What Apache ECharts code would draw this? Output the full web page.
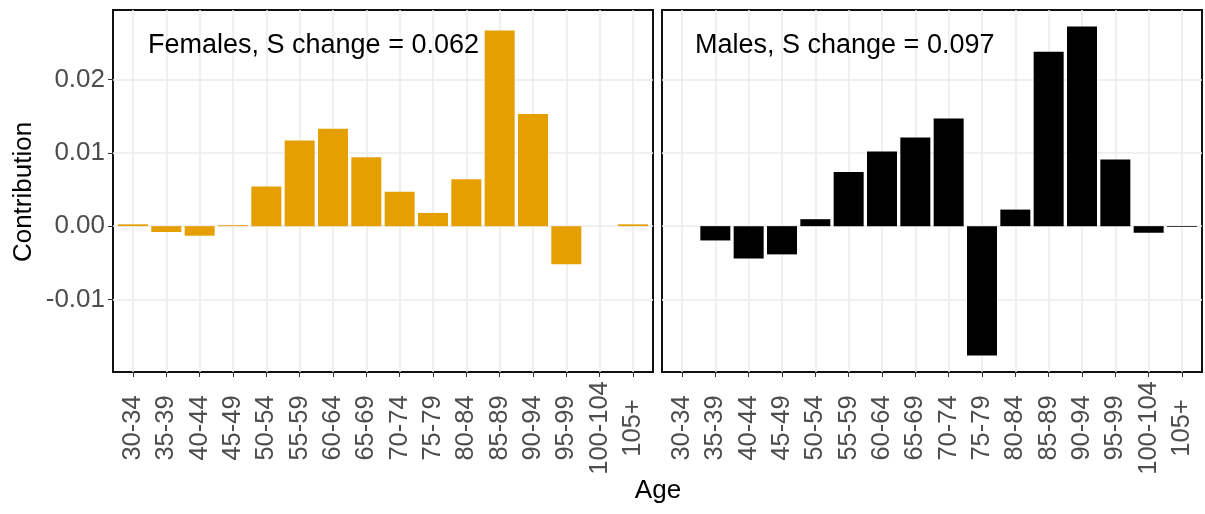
<!DOCTYPE html>
<html>
<head>
<meta charset="utf-8">
<script src="https://cdn.jsdelivr.net/npm/echarts@6/dist/echarts.min.js"></script>
<style>
  html, body { margin: 0; padding: 0; background: #ffffff; }
  #chart { width: 1205px; height: 514px; }
</style>
</head>
<body>
<div id="chart"></div>
<script>
// Age groups on the x axis
const ages = ['30-34', '35-39', '40-44', '45-49', '50-54', '55-59', '60-64', '65-69',
              '70-74', '75-79', '80-84', '85-89', '90-94', '95-99', '100-104', '105+'];

// Contribution of each age group to the change in S
const femaleContrib = [0.00025, -0.0008, -0.0013, 0.00012, 0.0054, 0.0117, 0.0133, 0.0094,
                       0.0047, 0.0018, 0.0064, 0.0267, 0.0153, -0.0052, 0, 0.00025];
const maleContrib = [0, -0.00195, -0.0044, -0.00385, 0.00095, 0.0074, 0.0102, 0.0121,
                     0.0147, -0.01765, 0.00226, 0.0238, 0.02724, 0.0091, -0.0009, -0.0001];

// Panel headings
const panelTitles = ['Females, S change = 0.062', 'Males, S change = 0.097'];

// Y axis tick values and the minor grid lines between them
const yTicks = [-0.01, 0, 0.01, 0.02];
const yMinor = [-0.015, -0.005, 0.005, 0.015, 0.025];

// Shared y range with 5% padding on each side
const allVals = femaleContrib.concat(maleContrib);
const dMin = Math.min(...allVals), dMax = Math.max(...allVals);
const pad = (dMax - dMin) * 0.05;
const yMin = dMin - pad, yMax = dMax + pad;

// Category positions 1..n, with 0.6 of a band of padding on each side
const xPos = ages.map((_, i) => i + 1);
const xMin = 0.4, xMax = ages.length + 0.6;

const FONT = "'Liberation Sans', Arial, sans-serif";
const GRID_MAJOR = '#EBEBEB';
const GRID_MINOR = '#F1F1F1';

const panels = [
  { left: 113, width: 540, color: '#E69F00', values: femaleContrib, showY: true },
  { left: 662, width: 540, color: '#000000', values: maleContrib, showY: false }
];

const grids = [], xAxes = [], yAxes = [], series = [];

panels.forEach((p, k) => {
  grids.push({
    left: p.left, top: 10, width: p.width, height: 362,
    show: true, borderColor: '#111111', borderWidth: 2, backgroundColor: '#ffffff'
  });
  xAxes.push({
    type: 'value', gridIndex: k, min: xMin, max: xMax, position: 'bottom',
    axisLine: { show: false, onZero: false },
    axisTick: { show: true, customValues: xPos, length: 5, lineStyle: { color: '#333333', width: 1 } },
    axisLabel: {
      show: true, customValues: xPos, rotate: 90, align: 'center', verticalAlign: 'middle',
      margin: 56, color: '#4D4D4D', fontSize: 25.5, fontFamily: FONT,
      formatter: v => ages[Math.round(v) - 1]
    },
    splitLine: { show: true, lineStyle: { color: GRID_MAJOR, width: 1.5 } }
  });
  yAxes.push({
    type: 'value', gridIndex: k, min: yMin, max: yMax,
    axisLine: { show: false, onZero: false },
    axisTick: { show: p.showY, customValues: yTicks, length: 5, lineStyle: { color: '#333333', width: 1 } },
    axisLabel: {
      show: p.showY, customValues: yTicks, margin: 8, color: '#4D4D4D', padding: [4, 0, 0, 0],
      fontSize: 26, fontFamily: FONT, formatter: v => v.toFixed(2)
    },
    splitLine: { show: true, lineStyle: { color: GRID_MAJOR, width: 1.5 } }
  });
  // minor horizontal grid lines, kept beneath the bars
  series.push({
    type: 'line', xAxisIndex: k, yAxisIndex: k, data: [], silent: true, z: 1,
    markLine: {
      silent: true, symbol: 'none', z: 1, animation: false,
      label: { show: false },
      lineStyle: { color: GRID_MINOR, width: 1, type: 'solid' },
      emphasis: { disabled: true },
      data: yMinor.map(v => ({ yAxis: v }))
    }
  });
  series.push({
    type: 'bar', xAxisIndex: k, yAxisIndex: k, z: 3,
    barWidth: 30,
    itemStyle: { color: p.color },
    data: p.values.map((v, i) => [xPos[i], v])
  });
});

const chart = echarts.init(document.getElementById('chart'), null, { renderer: 'canvas' });
chart.setOption({
  animation: false,
  backgroundColor: '#ffffff',
  grid: grids,
  xAxis: xAxes,
  yAxis: yAxes,
  series: series,
  graphic: [
    { type: 'text', left: 148, top: 32, z: 10,
      style: { text: panelTitles[0], font: '27px ' + FONT, fill: '#000000' } },
    { type: 'text', left: 695, top: 32, z: 10,
      style: { text: panelTitles[1], font: '27px ' + FONT, fill: '#000000' } },
    { type: 'text', x: 658, y: 491, z: 10,
      style: { text: 'Age', font: '26px ' + FONT, fill: '#000000', align: 'center', verticalAlign: 'middle' } },
    { type: 'text', x: 24, y: 192, rotation: Math.PI / 2, z: 10,
      style: { text: 'Contribution', font: '26px ' + FONT, fill: '#000000', align: 'center', verticalAlign: 'middle' } }
  ]
});
</script>
</body>
</html>
